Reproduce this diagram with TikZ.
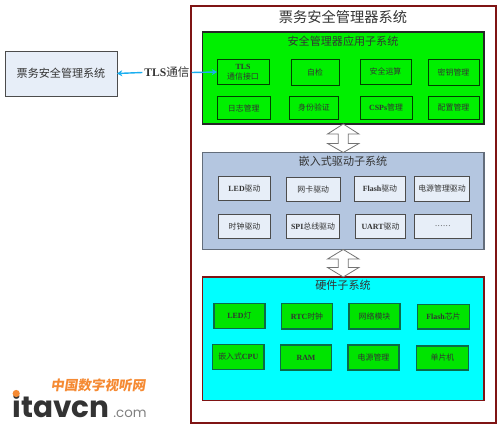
\documentclass[tikz,border=0pt]{standalone}
\usepackage{fontspec}
\setmainfont{Liberation Serif}
\newfontfamily\cj{Noto Sans CJK SC}
\newfontfamily\logofont{Poppins}
\newcommand{\mx}[2]{{\bfseries #1}{\cj #2}}
\newcommand{\bx}[7]{\node[#6,minimum width={(#4-#2)*0.02cm},minimum height={(#5-#3)*0.02cm}] (#1) at ({(#2+#4)/2},{(#3+#5)/2}) {#7};}
\definecolor{darkred}{HTML}{7F1414}
\definecolor{appgreen}{HTML}{00F000}
\definecolor{hwgreen}{HTML}{00E400}
\definecolor{drvblue}{HTML}{B4C6E0}
\definecolor{hwcyan}{HTML}{00FFFF}
\definecolor{pale}{HTML}{E7EEF8}
\definecolor{linkblue}{HTML}{1AAEF0}
\definecolor{logoorange}{HTML}{F58A33}
\definecolor{txt}{HTML}{333333}
\definecolor{hwedge}{HTML}{0A6A4A}
\usetikzlibrary{arrows.meta}
\tikzset{
  base/.style={draw,inner sep=0pt,outer sep=0pt,align=center,text=txt},
  outerbox/.style={base,draw=darkred,line width=1.3pt},
  appbox/.style={base,fill=appgreen,draw=black!85,line width=.8pt},
  drvbox/.style={base,fill=drvblue,draw=black!45!drvblue,line width=.7pt},
  hwbox/.style={base,fill=hwcyan,draw=darkred,line width=.9pt},
  appitem/.style={base,fill=appgreen,draw=black!75!green,line width=.55pt,font=\fontsize{4.5}{5.8}\selectfont},
  drvitem/.style={base,fill=pale,draw=black!70,line width=.55pt,font=\fontsize{4.5}{5.2}\selectfont},
  hwitem/.style={base,fill=hwgreen,draw=hwedge,line width=.6pt,font=\fontsize{4.5}{5.2}\selectfont},
  clientbox/.style={base,fill=pale,draw=black!70,line width=.45pt,font=\fontsize{6.3}{7}\selectfont},
  sectitle/.style={inner sep=0pt,text=txt,font=\fontsize{6.3}{7}\selectfont},
  link/.style={linkblue,line width=.8pt,-{Stealth[length=3pt,width=3.5pt]}},
  blockarrow/.style={draw=black!55,fill=white,line width=.45pt,line join=miter},
}
\begin{document}
\begin{tikzpicture}[x=0.02cm,y=-0.02cm]
\useasboundingbox (0,0) rectangle (500,428);
\bx{client}{5}{51}{117}{96}{clientbox}{\cj 票务安全管理系统}
\bx{outer}{191}{6}{496}{423}{outerbox}{}
\node[inner sep=0pt,text=txt,font=\fontsize{8.1}{9}\selectfont] (outertitle) at (343,17) {\cj 票务安全管理器系统};

\bx{app}{202.5}{32}{484}{124}{appbox}{}
\bx{drv}{202.5}{152.5}{484}{249.5}{drvbox}{}
\bx{hw}{202.5}{277}{484}{400.5}{hwbox}{}
\node[sectitle] (apptitle) at (343,41) {\cj 安全管理器应用子系统};
\node[sectitle] (drvtitle) at (343,161) {\cj 嵌入式驱动子系统};
\node[sectitle] (hwtitle) at (343,285) {\cj 硬件子系统};

\bx{a1}{217}{59.5}{269}{84.5}{appitem}{\bfseries TLS\\\cj 通信接口}
\bx{a2}{291}{59}{339}{85.5}{appitem}{\cj 自检}
\bx{a3}{360}{59}{411}{84}{appitem}{\cj 安全运算}
\bx{a4}{428}{59}{479}{85}{appitem}{\cj 密钥管理}
\bx{a5}{217}{96.5}{270.5}{119.5}{appitem}{\cj 日志管理}
\bx{a6}{289.5}{96}{338.5}{119}{appitem}{\cj 身份验证}
\bx{a7}{360}{96}{412}{119}{appitem}{\mx{CSPs}{管理}}
\bx{a8}{428}{96}{479}{119}{appitem}{\cj 配置管理}

\bx{d1}{218.5}{176}{270.5}{200.5}{drvitem}{\mx{LED}{驱动}}
\bx{d2}{286}{177.5}{340.5}{201.5}{drvitem}{\cj 网卡驱动}
\bx{d3}{354.5}{176.5}{405.5}{201}{drvitem}{\mx{Flash}{驱动}}
\bx{d4}{414.5}{176.5}{469.5}{201}{drvitem}{\cj 电源管理驱动}
\bx{d5}{218.5}{214.5}{270.5}{238.5}{drvitem}{\cj 时钟驱动}
\bx{d6}{286.5}{214.5}{339.5}{238.5}{drvitem}{\mx{SPI}{总线驱动}}
\bx{d7}{355.5}{214.5}{405.5}{238.5}{drvitem}{\mx{UART}{驱动}}
\bx{d8}{414.5}{214.5}{471}{238.5}{drvitem}{……}

\bx{h1}{214}{303.5}{265}{328.5}{hwitem}{\mx{LED}{灯}}
\bx{h2}{281.5}{303.5}{332.5}{329}{hwitem}{\mx{RTC}{时钟}}
\bx{h3}{349}{303.5}{400}{329}{hwitem}{\cj 网络模块}
\bx{h4}{417.5}{304.5}{469.5}{329}{hwitem}{\mx{Flash}{芯片}}
\bx{h5}{212.5}{344.5}{264}{369.5}{hwitem}{{\cj 嵌入式}\textbf{CPU}}
\bx{h6}{280.5}{345}{331.5}{370}{hwitem}{\bfseries RAM}
\bx{h7}{348}{345}{399}{370}{hwitem}{\cj 电源管理}
\bx{h8}{416.5}{346}{468.5}{370}{hwitem}{\cj 单片机}

\draw[blockarrow] (app.south) -- ++(15.7,10) -- ++(-10.7,0) -- ++(0,9.5) -- ++(10.7,0) -- (drv.north) -- ++(-15.7,-9) -- ++(10.7,0) -- ++(0,-9.5) -- ++(-10.7,0) -- cycle;
\draw[blockarrow] (drv.south) -- ++(15.7,9.5) -- ++(-10.7,0) -- ++(0,8.5) -- ++(10.7,0) -- (hw.north) -- ++(-15.7,-9.5) -- ++(10.7,0) -- ++(0,-8.5) -- ++(-10.7,0) -- cycle;

\node[inner sep=1pt,text=txt,font=\fontsize{6.6}{7}\selectfont] (tls) at (167,72.5) {\mx{TLS}{通信}};
\draw[link] (tls.west) -- (client.east);
\draw[link] (tls.east) -- (a1.west);

\node[inner sep=0pt,anchor=center,text=logoorange,font=\fontsize{7.7}{8}\selectfont\cj\bfseries] (logocn) at (98,385) {\addfontfeature{FakeSlant=0.15}中国数字视听网};
\node[inner sep=0pt,anchor=base west,text=txt,font=\fontsize{16.8}{18}\logofont\bfseries] (logoen) at (12,418) {itavcn};
\node[inner sep=0pt,anchor=base west,text=black!50,font=\fontsize{7.6}{9}\logofont] (logocom) at (113,418) {.com};
\fill[logoorange] (16.2,393.5) circle (3.6);
\end{tikzpicture}
\end{document}
